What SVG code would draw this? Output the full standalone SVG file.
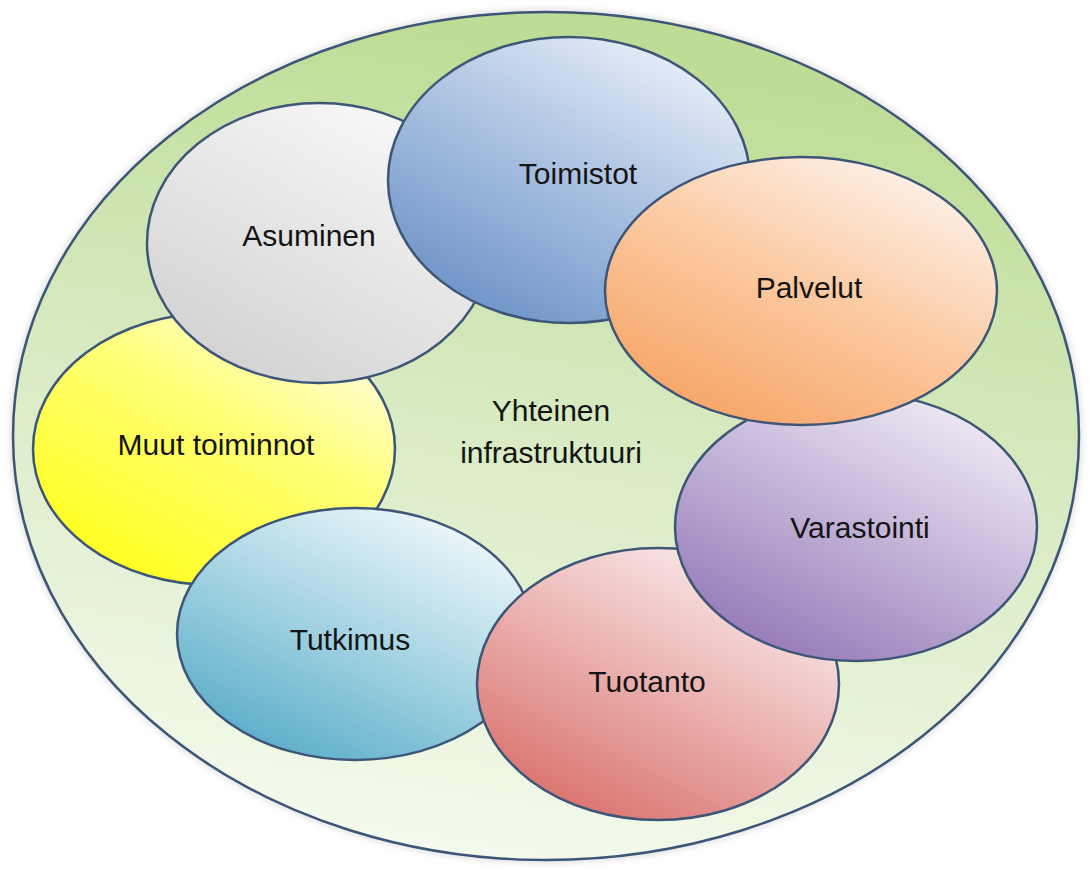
<svg xmlns="http://www.w3.org/2000/svg" width="1091" height="870" viewBox="0 0 1091 870">
  <defs>
    <linearGradient id="gOuter" x1="0.3" y1="0" x2="0.1" y2="1">
      <stop offset="0" stop-color="#bedc95"/>
      <stop offset="0.45" stop-color="#d9ebc4"/>
      <stop offset="1" stop-color="#f8fcf2"/>
    </linearGradient>
    <linearGradient id="gGray" x1="0.8" y1="0.05" x2="0.2" y2="0.95">
      <stop offset="0" stop-color="#f8f8f8"/>
      <stop offset="1" stop-color="#d2d2d2"/>
    </linearGradient>
    <linearGradient id="gBlue" x1="0.8" y1="0.05" x2="0.2" y2="0.95">
      <stop offset="0" stop-color="#e6edf7"/>
      <stop offset="0.5" stop-color="#a7bfe0"/>
      <stop offset="1" stop-color="#6d93c7"/>
    </linearGradient>
    <linearGradient id="gOrange" x1="0.8" y1="0.05" x2="0.2" y2="0.95">
      <stop offset="0" stop-color="#fdf1e8"/>
      <stop offset="0.5" stop-color="#fbc89f"/>
      <stop offset="1" stop-color="#f7a466"/>
    </linearGradient>
    <linearGradient id="gYellow" x1="0.85" y1="0.05" x2="0.2" y2="0.95">
      <stop offset="0" stop-color="#fffce2"/>
      <stop offset="0.4" stop-color="#ffff78"/>
      <stop offset="1" stop-color="#ffff1e"/>
    </linearGradient>
    <linearGradient id="gPurple" x1="0.8" y1="0.05" x2="0.2" y2="0.95">
      <stop offset="0" stop-color="#efe9f4"/>
      <stop offset="0.5" stop-color="#c2b2d7"/>
      <stop offset="1" stop-color="#9479b8"/>
    </linearGradient>
    <linearGradient id="gTeal" x1="0.8" y1="0.05" x2="0.2" y2="0.95">
      <stop offset="0" stop-color="#eef7fa"/>
      <stop offset="0.5" stop-color="#a6d4e3"/>
      <stop offset="1" stop-color="#5aadc9"/>
    </linearGradient>
    <linearGradient id="gRed" x1="0.8" y1="0.05" x2="0.2" y2="0.95">
      <stop offset="0" stop-color="#faeeee"/>
      <stop offset="0.5" stop-color="#eab1af"/>
      <stop offset="1" stop-color="#da726e"/>
    </linearGradient>
    <filter id="halo" x="-5%" y="-5%" width="110%" height="110%">
      <feGaussianBlur in="SourceAlpha" stdDeviation="4"/>
      <feComponentTransfer><feFuncA type="linear" slope="0.18"/></feComponentTransfer>
      <feMerge><feMergeNode/><feMergeNode in="SourceGraphic"/></feMerge>
    </filter>
  </defs>
  <style>
    .shape { stroke: #3d5577; stroke-width: 2.5; }
    .label { font-family: "Liberation Sans", Arial, sans-serif; font-size: 30px; fill: #141414; text-anchor: middle; }
  </style>

  <rect width="1091" height="870" fill="#ffffff"/>

  <!-- shared infrastructure: the enclosing ellipse -->
  <g id="infrastruktuuri">
    <ellipse class="shape" cx="546" cy="436" rx="533" ry="424" fill="url(#gOuter)" filter="url(#halo)"/>
    <text class="label" x="551" y="421">Yhteinen</text>
    <text class="label" x="551" y="463">infrastruktuuri</text>
  </g>

  <!-- functions, bottom of the stack first -->
  <g id="muut">
    <ellipse class="shape" cx="214" cy="449" rx="181" ry="136" fill="url(#gYellow)"/>
    <text class="label" x="216" y="455">Muut toiminnot</text>
  </g>
  <g id="asuminen">
    <ellipse class="shape" cx="319" cy="243" rx="172" ry="140" fill="url(#gGray)"/>
    <text class="label" x="309" y="246">Asuminen</text>
  </g>
  <g id="toimistot">
    <ellipse class="shape" cx="569" cy="180" rx="181" ry="143" fill="url(#gBlue)"/>
    <text class="label" x="578" y="184">Toimistot</text>
  </g>
  <g id="tutkimus">
    <ellipse class="shape" cx="355" cy="634" rx="178" ry="126" fill="url(#gTeal)"/>
    <text class="label" x="350" y="650">Tutkimus</text>
  </g>
  <g id="tuotanto">
    <ellipse class="shape" cx="658" cy="684" rx="181" ry="136" fill="url(#gRed)"/>
    <text class="label" x="647" y="692">Tuotanto</text>
  </g>
  <g id="varastointi">
    <ellipse class="shape" cx="856" cy="527" rx="181" ry="134" fill="url(#gPurple)"/>
    <text class="label" x="860" y="538">Varastointi</text>
  </g>
  <g id="palvelut">
    <ellipse class="shape" cx="801" cy="291" rx="196" ry="134" fill="url(#gOrange)"/>
    <text class="label" x="809" y="298">Palvelut</text>
  </g>

  <g id="connectors"/>
</svg>
